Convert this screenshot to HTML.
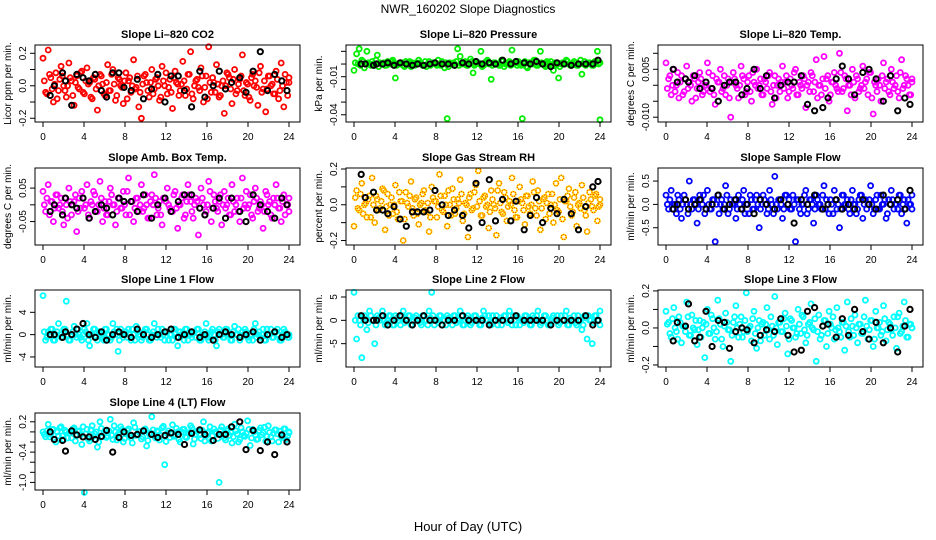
<!DOCTYPE html>
<html><head><meta charset="utf-8">
<style>
html,body{margin:0;padding:0;background:#fff;}
svg{display:block;font-family:"Liberation Sans",Arial,sans-serif;}
</style></head>
<body>
<svg id="chart" width="936" height="540" viewBox="0 0 936 540">
<text x="468" y="13" text-anchor="middle" font-size="12">NWR_160202  Slope Diagnostics</text>
<text x="468" y="531" text-anchor="middle" font-size="13">Hour of Day (UTC)</text>
</svg>
<script>
const blackHours = [0.7,1.1,1.9,2.2,2.8,3.3,3.9,4.5,5.1,5.7,6.2,6.8,7.4,7.9,8.6,9.2,9.8,10.6,11.2,11.9,12.5,13.2,13.8,14.5,15.3,15.8,16.6,17.2,17.8,18.4,19.2,19.8,20.5,21.2,21.9,22.6,23.3,23.8];
const xTicks = [0,4,8,12,16,20,24];

const co2Vals = [17,-4,22,5,-10,8,-3,12,0,-7,14,3,-12,6,-2,9,-5,11,2,-8,4,-15,7,1,-6,13,-3,10,-9,5,0,-11,8,3,-4,16,-1,-13,-20,6,2,-7,10,-2,5,-9,12,0,-5,4,-14,9,1,-3,15,-6,7,21,-8,3,-1,11,-10,6,24,-4,2,13,-7,0,-17,8,5,-11,10,-3,4,19,-6,1,-9,7,3,-12,12,-2,-16,6,0,-5,9,-8,14,-13,2,5];
const co2ValsB = [3,-5,7,-2,1,-8,4,6,-3,0,5,-6,2,-1,8,-4,3,1,-7,5,-2,0,6,-5,2,-3,7,1,-6,4,-1,3,-8,5,0,-2,6,-4,1,7,-3,2,-5,4,0,-7,3,8,-1,-4,5,2,-6,1,3,-2,7,-5,0,4,-3,6,-1,-8,2,5,-4,1,-6,3,0,7,-2,4,-5,1,6,-3,2,-7,5,0,-1,8,-4,3,-2,6,1,-5,4,-3,0,7,-6,2];
const co2Black = [-6,0,8,3,-12,7,5,3,7,-3,-7,8,8,-1,-3,4,-8,-2,7,-10,6,6,-3,-13,9,-7,0,9,-2,2,5,-4,9,21,-3,7,3,-3];

const presVals = [-5,8,12,3,-3,10,0,2,-1,7,1,0,-1,2,0,3,-11,0,1,-1,2,1,-2,0,1,3,0,-1,-2,2,0,1,-1,0,2,-3,-43,1,0,-1,12,6,0,2,-1,4,-7,0,1,10,-1,2,0,-12,1,0,-1,3,-2,0,2,11,1,-1,0,-43,2,-3,1,0,3,-1,10,0,-2,1,2,-5,-1,-11,0,1,3,0,-1,2,-1,0,-8,2,0,1,-1,2,10,-44];
const presValsB = [1,0,-1,2,0,1,-1,0,3,-2,0,1,-1,0,2,1,-1,0,1,-2,0,2,1,-1,0,1,-1,2,0,-1,1,0,3,-1,0,1,-2,0,1,2,-1,0,1,-1,0,2,-1,1,0,-2,1,3,0,-1,1,0,-1,2,0,1,-1,0,1,2,-1,0,-2,1,0,3,-1,0,1,-1,2,0,-1,1,0,-2,1,0,2,-1,0,1,-1,3,0,-1,1,0,-1,2,0,1];
const presBlack = [0,0,-1,0,0,1,-1,1,0,-1,0,-1,0,1,0,0,-1,1,0,2,0,1,0,3,0,2,1,0,2,0,-2,1,0,-1,0,0,0,3];

const tempVals = [7,2,-3,5,0,-4,3,-2,6,1,-5,2,-1,4,-3,0,7,-2,3,-6,1,5,-1,-3,2,-10,4,0,-4,6,2,-2,3,-5,1,5,0,-3,2,-1,4,-6,3,0,-2,6,1,-4,2,-1,5,-3,0,3,-7,1,4,-2,8,0,-3,9,2,-5,1,4,-1,10,-2,3,-8,0,5,-4,2,-1,6,1,-3,4,-9,0,2,-5,7,1,-2,5,-1,3,-4,8,0,2,-3,1];
const tempValsB = [-1,3,0,-2,4,1,-3,2,-1,0,3,-4,1,2,-2,0,4,-1,-3,2,1,-2,3,0,-4,1,2,-1,0,3,-3,1,-2,4,0,-1,2,-3,1,3,-2,0,-4,2,1,-1,3,-2,0,4,-3,1,-1,2,0,-2,3,1,-4,0,2,-1,3,-3,1,0,-2,4,-1,2,0,-3,1,3,-2,0,-1,2,4,-4,1,-2,0,3,-1,2,-3,1,0,-2,4,-1,3,0,-3,2];
const tempBlack = [5,1,2,1,3,-1,1,-1,-5,0,1,1,-3,-1,5,-1,3,-4,0,1,1,3,-6,-8,-7,-4,2,6,2,-3,4,5,2,-5,3,-8,-4,-6];

const ambVals = [4,-2,6,1,-5,3,-1,2,-6,0,5,-3,1,-8,2,4,-1,6,-4,0,3,-2,7,-5,1,-3,5,0,-6,2,-1,4,-3,8,1,-5,2,-2,6,-1,0,-4,3,9,-3,1,-6,2,5,-1,-2,4,-7,0,3,-3,6,1,-4,2,-9,5,0,-2,7,-5,3,-1,1,-6,4,0,-3,6,-2,2,-5,8,0,-1,3,-4,5,-2,1,-7,4,0,-3,2,6,-1,-5,3,0,-2];
const ambValsB = [0,2,-3,1,-1,3,0,-2,2,-4,1,0,3,-2,-1,2,0,-3,1,4,-2,0,2,-1,-3,1,3,0,-2,2,-1,0,4,-3,1,-1,2,0,-2,3,-4,1,0,2,-1,-3,2,1,0,-2,3,-1,0,2,-4,1,3,-2,0,1,-1,2,-3,0,4,-1,1,-2,3,0,-1,2,-3,1,0,-2,2,-1,4,0,-3,1,2,-1,0,-2,3,1,-4,0,2,-1,1,-3,0,2];
const ambBlack = [-2,0,-3,2,0,-1,2,-4,-2,0,-1,-3,2,1,1,-2,3,-4,0,2,-2,1,3,3,-1,-3,-1,2,-4,2,-2,-5,3,0,-2,-4,2,0];

const rhVals = [-12,8,-3,12,0,-7,5,15,-10,3,-2,9,-14,6,0,-5,11,-8,2,-20,7,-1,13,-6,4,-11,1,8,-4,-15,10,2,-7,17,-3,5,-12,0,9,-5,3,14,-9,1,-18,6,-2,11,19,-6,4,-1,-13,8,0,-17,12,-4,7,-9,2,15,-3,-7,10,1,-11,5,-5,13,-2,8,-14,3,-8,6,0,-10,12,-4,15,-18,2,9,-6,4,-12,1,11,-3,-15,7,-1,5,-9,3];
const rhValsB = [4,-2,6,-5,1,3,-7,0,5,-3,2,8,-1,-6,4,0,-4,7,2,-8,1,5,-2,3,-5,0,6,-3,1,-7,4,2,-1,5,-4,0,8,-6,3,-2,1,6,-5,0,4,-3,7,-1,2,-6,5,0,-4,3,-2,8,1,-5,4,-1,0,6,-7,2,3,-3,5,-1,0,7,-6,2,-2,4,1,-5,6,0,-3,3,-8,2,5,-1,-4,7,0,-2,4,-6,1,3,-3,6,-1,0];
const rhBlack = [17,4,7,-3,-3,-5,-1,-8,-12,-4,-4,-4,-3,8,0,-6,-3,-6,-13,12,-10,14,-9,3,-9,2,-14,-6,4,-10,-2,-5,3,-5,-14,-1,10,13];

const flowVals = [2,-1,3,0,-2,1,-3,2,0,5,-1,1,-4,2,0,-2,3,-1,1,-8,2,0,-1,4,-2,1,0,-3,2,-1,3,0,-2,1,-1,2,-5,0,1,-2,3,0,6,-1,1,-3,2,0,-1,2,-8,1,-2,0,3,-1,1,-4,2,0,-1,4,1,-2,0,3,-1,-5,2,0,1,-2,3,0,-1,2,-3,1,0,4,-2,1,-1,2,0,-3,1,3,-1,0,2,-2,1,-4,0,2];
const flowValsB = [0,1,-1,0,2,-1,0,1,-2,0,1,0,-1,1,2,-1,0,-1,1,0,-2,1,0,2,-1,0,1,-1,0,1,-2,0,2,-1,1,0,-1,2,0,-1,1,-2,0,1,0,-1,2,1,-1,0,1,-1,0,2,-2,1,0,-1,1,0,2,-1,0,1,-2,1,0,-1,2,0,-1,1,0,-2,1,2,0,-1,1,0,-1,2,-1,0,1,-2,0,1,0,-1,2,0,-1,1,0,-1];
const flowBlack = [-1,0,1,-1,0,1,-1,0,2,-1,0,1,-1,0,-2,1,0,-1,1,0,-4,1,0,2,-1,0,1,-1,0,-1,1,0,-1,2,0,1,-1,3];

const l1Vals = [7,-1,0.5,1,-1,0,2,-0.5,1,6,-1,0,1.5,-0.5,0,-1,1,2,-2,0,1,-1,0.5,-0.5,1,0,-1,2,0,-3,1,-0.5,0.5,1,-1,0,1.5,0,-1,0.5,1,-1,0,2,-0.5,0,1,-1,0.5,0,-1,1,-2,0.5,0,1,-1,0,0.5,-0.5,1,-1,0,2,-1,0.5,0,-2,1,0,-0.5,1,0,-1,1.5,0,-1,0.5,1,-0.5,0,-1,2,0,-0.5,1,-1,0,1,-0.5,0.5,0,-1,1,0,-0.5];
const l1ValsB = [0.5,-0.5,0,1,-1,0.5,0,-0.5,1,0,-1,0.5,0,1,-0.5,0,0.5,-1,0,1,-0.5,0.5,0,-1,1,0,-0.5,0.5,1,-1,0,0.5,-0.5,0,1,-1,0.5,0,-0.5,1,0,-1,0.5,0,1,-0.5,0,0.5,-1,0,1,-0.5,0.5,0,-1,1,0,-0.5,0.5,1,-1,0,0.5,-0.5,0,1,-1,0.5,0,-0.5,1,0,-1,0.5,0,1,-0.5,0,0.5,-1,0,1,-0.5,0.5,0,-1,1,0,-0.5,0.5,1,-1,0,0.5,-0.5,0];
const l1Black = [0,0,-0.5,0.5,0,1,2,0,-0.5,0.5,-1,0,0.5,0,-0.5,1,0,-0.5,0,0.5,1,-0.5,0,0.5,-0.5,0,-1,0,0.5,0,-0.5,0,0.5,-1,0,0.5,-0.5,0];

const l2Vals = [6,-4,0,-8,1,-2,2,0,-5,1,0,2,-1,0,1,-1,1,0,-1,2,0,1,-1,0,1,0,-1,1,0,2,6,-1,0,1,-1,0,1,0,-1,1,0,2,-1,0,1,-1,0,1,0,-1,2,0,1,-1,0,1,0,-1,1,0,2,-1,0,1,-1,0,1,0,-1,1,0,2,-1,0,1,-1,0,1,0,-1,1,0,2,-1,0,1,-1,0,-2,1,-4,0,-5,1,0,2];
const l2ValsB = [0,1,-1,0.5,0,-0.5,1,0,-1,0.5,1,0,-0.5,1,0,-1,0.5,0,1,-0.5,0,1,-1,0.5,0,-0.5,1,0,-1,0.5,1,0,-0.5,1,0,-1,0.5,0,1,-0.5,0,1,-1,0.5,0,-0.5,1,0,-1,0.5,1,0,-0.5,1,0,-1,0.5,0,1,-0.5,0,1,-1,0.5,0,-0.5,1,0,-1,0.5,1,0,-0.5,1,0,-1,0.5,0,1,-0.5,0,1,-1,0.5,0,-0.5,1,0,-1,0.5,1,0,-0.5,1,0,-1];
const l2Black = [1,0,0,0,1,-1,0,1,0,-1,0,1,0,0,-1,0,0,1,0,0,0,-1,0,0,0,1,0,0,0,0,-1,0,0,0,0,1,-1,0];

const l3Vals = [9,3,-5,11,-2,6,-8,1,14,-4,7,-1,-9,4,0,-16,10,-3,5,-6,15,2,-10,8,-1,-18,3,12,-5,6,-2,19,0,-7,9,-11,4,2,-4,11,-6,1,17,-9,3,-2,8,-14,5,0,-5,10,-3,6,-8,2,13,-1,-18,7,-4,4,-10,9,0,-6,11,-2,3,-12,14,-5,1,7,-8,2,-3,15,-6,4,-10,9,0,-4,12,-7,3,-1,6,-11,8,-2,14,-5,2,0];
const l3ValsB = [2,-3,5,0,-6,3,1,-2,6,-4,0,4,-1,-5,3,2,-3,7,0,-2,5,-6,1,3,-1,-4,6,0,2,-5,4,-2,1,5,-3,0,-7,3,2,-1,6,-4,0,3,-2,5,1,-6,4,0,-3,2,7,-1,-4,3,0,5,-2,-6,1,4,-3,2,6,-1,0,-5,3,1,-2,5,-4,0,2,-3,6,1,-1,4,-6,0,3,-2,5,-1,2,-4,0,6,-3,1,4,-5,2,0];
const l3Black = [-7,3,1,13,-7,-5,9,-10,4,3,-11,-2,0,-1,-8,-4,-1,-2,5,-4,-13,-12,9,11,1,2,-5,5,-4,10,-2,-6,3,-8,0,-13,1,10];

const l4Vals = [0,-10,15,-5,5,-20,-8,10,-15,0,-3,-12,8,-6,2,-25,-120,5,-18,12,-4,-30,20,-10,3,-8,25,-15,0,-5,10,-20,-2,6,-12,18,-7,0,-14,4,-28,-4,30,-9,2,-16,8,-65,-3,-11,14,-6,0,-20,5,-10,-2,12,-24,-5,3,-13,20,-8,0,-18,6,-3,-100,10,-12,2,-7,-22,15,-4,-15,0,-9,22,-27,5,-6,-14,8,-2,-18,12,-10,-3,4,-20,-8,6,-15,0];
const l4ValsB = [-5,2,-10,5,-15,0,8,-8,3,-12,-2,6,-18,1,-6,10,-4,-14,4,-9,0,-20,7,-3,-11,2,-7,12,-16,-1,5,-13,3,-8,-22,9,-5,1,-10,6,-17,-2,4,-12,0,-7,11,-19,2,-4,-9,7,-15,0,5,-11,-3,8,-14,1,-6,3,-18,-2,10,-8,0,-13,4,-5,-16,6,-1,-10,2,-20,8,-7,-3,5,-12,0,-15,3,-6,9,-9,-1,-18,4,-4,1,-11,6,-8,-2];
const l4Black = [0,-15,-17,-38,2,-6,-10,-10,-15,-9,3,-40,-11,0,-7,-5,2,-5,-11,-7,-2,-5,-25,-3,4,-5,-17,-5,-5,10,20,-35,3,-37,-20,-45,-6,-20];

const xAxisPad = 8, xAxisSpan = 246, boxW = 265, boxH = 77;
const panels = [
 {name:'co2', title:'Slope Li\u2013820 CO2', ylab:'Licor ppm per min.', left:35, top:45, ymin:-0.223, ymax:0.251, unit:0.01, vals:co2Vals, valsB:co2ValsB, black:co2Black, color:'#ff0000',
  ticks:[[-0.2,'-0.2'],[-0.1,''],[0,'0.0'],[0.1,''],[0.2,'0.2']]},
 {name:'pressure', title:'Slope Li\u2013820 Pressure', ylab:'kPa per min.', left:346, top:45, ymin:-0.0457, ymax:0.015, unit:0.001, vals:presVals, valsB:presValsB, black:presBlack, color:'#00ee00',
  ticks:[[0.01,''],[0,''],[-0.01,'-0.01'],[-0.02,''],[-0.03,''],[-0.04,'-0.04']]},
 {name:'temp', title:'Slope Li\u2013820 Temp.', ylab:'degrees C per min.', left:658, top:45, ymin:-0.0115, ymax:0.0126, unit:0.001, vals:tempVals, valsB:tempValsB, black:tempBlack, color:'#ff00ff',
  ticks:[[0.01,''],[0.005,'0.005'],[0,''],[-0.005,''],[-0.01,'-0.010']]},
 {name:'amb-temp', title:'Slope Amb. Box Temp.', ylab:'degrees C per min.', left:35, top:168, ymin:-0.12, ymax:0.11, unit:0.01, vals:ambVals, valsB:ambValsB, black:ambBlack, color:'#ff00ff',
  ticks:[[0.05,'0.05'],[0,''],[-0.05,'-0.05']]},
 {name:'gas-rh', title:'Slope Gas Stream RH', ylab:'percent per min.', left:346, top:168, ymin:-0.225, ymax:0.2056, unit:0.01, vals:rhVals, valsB:rhValsB, black:rhBlack, color:'#ffee00', rh:true,
  ticks:[[0.2,'0.2'],[0.1,''],[0,'0.0'],[-0.1,''],[-0.2,'-0.2']]},
 {name:'sample-flow', title:'Slope Sample Flow', ylab:'ml/min per min.', left:658, top:168, ymin:-0.87, ymax:0.78, unit:0.1, vals:flowVals, valsB:flowValsB, black:flowBlack, color:'#0000ff',
  ticks:[[0.5,'0.5'],[0,'0.0'],[-0.5,'-0.5']]},
 {name:'line1-flow', title:'Slope Line 1 Flow', ylab:'ml/min per min.', left:35, top:290, ymin:-5.8, ymax:8, unit:1, vals:l1Vals, valsB:l1ValsB, black:l1Black, color:'#00ffff',
  ticks:[[4,'4'],[0,'0'],[-4,'-4']]},
 {name:'line2-flow', title:'Slope Line 2 Flow', ylab:'ml/min per min.', left:346, top:290, ymin:-10, ymax:6.5, unit:1, vals:l2Vals, valsB:l2ValsB, black:l2Black, color:'#00ffff',
  ticks:[[5,'5'],[0,'0'],[-5,'-5']]},
 {name:'line3-flow', title:'Slope Line 3 Flow', ylab:'ml/min per min.', left:658, top:290, ymin:-0.211, ymax:0.205, unit:0.01, vals:l3Vals, valsB:l3ValsB, black:l3Black, color:'#00ffff',
  ticks:[[0.2,'0.2'],[0.1,''],[0,'0.0'],[-0.1,''],[-0.2,'-0.2']]},
 {name:'line4-flow', title:'Slope Line 4 (LT) Flow', ylab:'ml/min per min.', left:35, top:413, ymin:-1.15, ymax:0.374, unit:0.01, vals:l4Vals, valsB:l4ValsB, black:l4Black, color:'#00ffff',
  ticks:[[0.2,'0.2'],[0,''],[-0.2,''],[-0.4,'-0.4'],[-0.6,''],[-0.8,''],[-1.0,'-1.0']]}
];

const svg = document.getElementById('chart');
const NS = 'http://www.w3.org/2000/svg';
function mk(tag, attrs, parent){
  const e = document.createElementNS(NS, tag);
  for (const k in attrs) e.setAttribute(k, attrs[k]);
  (parent||svg).appendChild(e);
  return e;
}

panels.forEach(p => {
  const g = mk('g', {});
  
  
  const xS = h => p.left + xAxisPad + h / 24 * xAxisSpan;
  const yS = v => p.top + (p.ymax - v) / (p.ymax - p.ymin) * boxH;
  const bottom = p.top + boxH;

  const t = mk('text', {x: p.left + boxW/2, y: p.top - 7, 'text-anchor':'middle', 'font-size':'11', 'font-weight':'bold'}, g);
  t.textContent = p.title;
  
  

  function drawSeries(arr, offset) {
    const n = arr.length;
    arr.forEach((v, i) => {
      const cx = xS(Math.min(24, (i + offset) * 24 / (n - 1))), cy = yS(v * p.unit);
      const c = mk('circle', {cx:cx.toFixed(1), cy:cy.toFixed(1), r:'2.5', fill:'none', stroke:p.color, 'stroke-width':'1.8'}, g);
      
      
      if (p.rh) {
        const d = mk('circle', {cx:cx.toFixed(1), cy:cy.toFixed(1), r:'2.5', fill:'none', stroke:'#ff3300', 'stroke-width':'1.2', 'stroke-dasharray':'1 1.2'}, g);
        
        
      }
    });
  }
  drawSeries(p.vals, 0);
  drawSeries(p.valsB, 0.5);

  p.black.forEach((v, i) => {
    const c = mk('circle', {cx:xS(blackHours[i]).toFixed(1), cy:yS(v * p.unit).toFixed(1), r:'2.6', fill:'none', stroke:'#000', 'stroke-width':'2'}, g);
    
    
  });

  const box = mk('rect', {x:p.left, y:p.top, width:boxW, height:boxH, fill:'none', stroke:'#000', 'stroke-width':'1'}, g);
  
  

  const xa = mk('line', {x1:xS(0), x2:xS(24), y1:bottom, y2:bottom, stroke:'#000'}, g);
  
  
  xTicks.forEach(h => {
    const tk = mk('line', {x1:xS(h), x2:xS(h), y1:bottom, y2:bottom + 5, stroke:'#000'}, g);
    
    
    const tl = mk('text', {x:xS(h), y:bottom + 18, 'text-anchor':'middle', 'font-size':'10'}, g);
    tl.textContent = h;
    
    
  });
  p.ticks.forEach(([v, lab]) => {
    const y = yS(v);
    const tk = mk('line', {x1:p.left - 5, x2:p.left, y1:y, y2:y, stroke:'#000'}, g);
    
    
    if (lab) {
      const tl = mk('text', {x:p.left - 9, y:y, 'text-anchor':'middle', 'font-size':'10', transform:`rotate(-90 ${p.left - 9} ${y})`}, g);
      tl.textContent = lab;
      
      
    }
  });
  const yt = p.left - 24, ym = p.top + boxH/2;
  const ytl = mk('text', {x:yt, y:ym, 'text-anchor':'middle', 'font-size':'10', transform:`rotate(-90 ${yt} ${ym})`}, g);
  ytl.textContent = p.ylab;
  
  
});
</script>
</body></html>
